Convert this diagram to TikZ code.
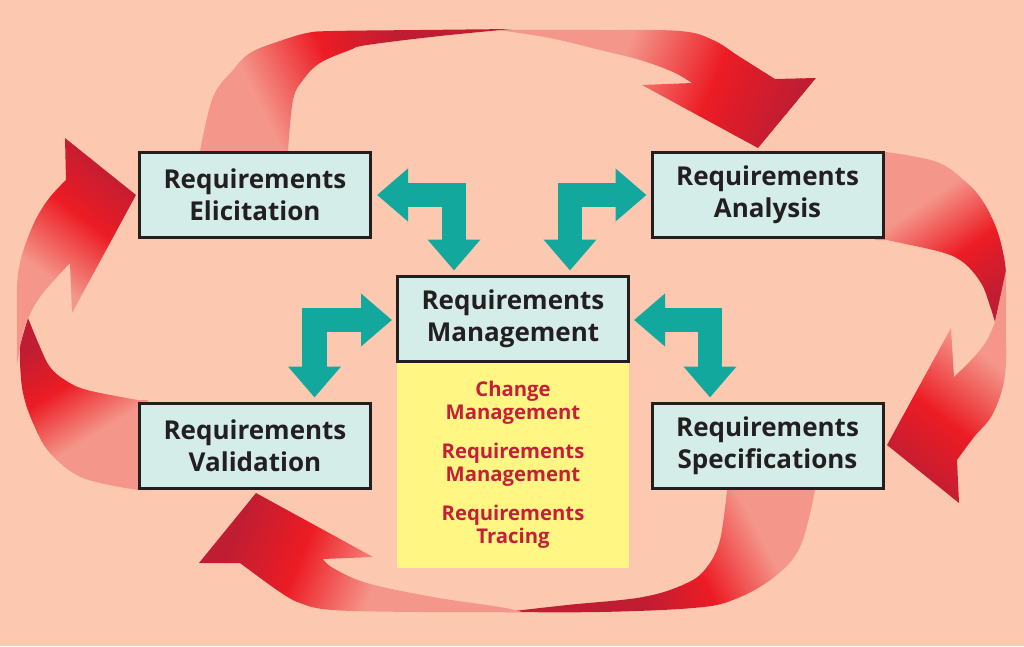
\documentclass[tikz,border=0pt]{standalone}
\usepackage{fontspec}
\setmainfont{Open Sans}
\usetikzlibrary{arrows.meta,calc}
\definecolor{bg}{HTML}{FCC9B0}
\definecolor{boxfill}{HTML}{D5EDE8}
\definecolor{boxline}{HTML}{231F20}
\definecolor{tealc}{HTML}{13A89E}
\definecolor{yel}{HTML}{FFF683}
\definecolor{redtext}{HTML}{C5203A}
\definecolor{rlight}{HTML}{F4968A}
\definecolor{rred}{HTML}{EC1C24}
\definecolor{rdark}{HTML}{C11D32}
\pgfdeclarehorizontalshading{ribbon}{100bp}{color(0bp)=(rlight); color(25bp)=(rlight); color(52bp)=(rred); color(75bp)=(rdark); color(100bp)=(rdark)}
% #1 = ribbon outline, #2 = point where the light colour ends, #3 = direction (deg), #4 = length of the gradient
\newcommand{\ribseg}[4]{%
  \begin{scope}
    \clip #1;
    \begin{scope}[transform canvas={shift={#2}, rotate=#3}]
      \fill[rlight] (-1200,-1200) rectangle (0.6,1200);
      \fill[rdark] (#4-0.6,-1200) rectangle (1200,1200);
      \shade[shading=ribbon] (0,-1200) rectangle (#4,1200);
    \end{scope}
  \end{scope}}
\begin{document}
\begin{tikzpicture}[x=1pt,y=-1pt,
  stage/.style={draw=boxline, line width=3pt, fill=boxfill, minimum width=231pt, minimum height=85pt, inner sep=0pt, align=center, font=\fontsize{26}{32}\selectfont\bfseries, text=boxline},
  tealarrow/.style={draw=tealc, line width=24.5pt, line join=miter, {Triangle[width=51pt,length=31pt]}-{Triangle[width=51pt,length=31pt]}},
  tasktxt/.style={text=redtext, align=center, font=\fontsize{20.3}{22.8}\selectfont\bfseries, inner sep=0pt}
]
\fill[bg] (0,0) rectangle (1024,646);
\useasboundingbox (0,0) rectangle (1024,646);

% ---- red ribbons ----
% top: tail segment
\ribseg{(200,165) -- plot[smooth,tension=0.6] coordinates {(200,151) (213,97) (233,70) (250,53) (277,42) (307,33) (333,31) (420,30) (512,29)} -- plot[smooth,tension=0.6] coordinates {(512,29) (440,36) (367,45) (350,50) (320,63) (303,80) (293,100) (288,151)} -- (288,165) -- cycle}{(255,95)}{25.7}{150}
% top: head segment
\ribseg{plot[smooth,tension=0.6] coordinates {(498,30) (600,30) (680,31) (713,40) (740,57) (775,79)} -- (816,78) -- (758,148) -- (642,85) -- plot[smooth,tension=0.6] coordinates {(692,83) (673,72) (640,60) (600,50) (550,38) (498,30)} -- cycle}{(630,40)}{-22.1}{173}
% right: tail segment
\ribseg{(875,152) -- plot[smooth,tension=0.6] coordinates {(886,152) (937,162) (967,183) (984,203) (997,230) (1004,257) (1006,273)} -- (995,322) -- plot[smooth,tension=0.6] coordinates {(995,322) (989,303) (981,283) (964,263) (941,252) (886,240)} -- (875,240) -- cycle}{(935,195)}{-55.6}{115}
% right: head segment
\ribseg{plot[smooth,tension=0.6] coordinates {(1006,270) (1006,330) (1006,363) (1002,390) (991,417) (974,437) (957,460)} -- (959,503) -- (887,445) -- (951,328) -- plot[smooth,tension=0.6] coordinates {(954,377) (974,357) (987,340) (995,322)} -- cycle}{(990,360)}{232.3}{139}
% bottom: tail segment
\ribseg{(727,480) -- plot[smooth,tension=0.6] coordinates {(727,490) (720,540) (707,567) (687,583) (643,597) (567,605) (505,612)} -- plot[smooth,tension=0.6] coordinates {(505,612) (600,612) (693,608) (733,600) (773,578) (800,547) (815,490)} -- (815,480) -- cycle}{(765,545)}{-152.4}{130}
% bottom: head segment
\ribseg{plot[smooth,tension=0.6] coordinates {(522,612) (420,612) (333,610) (300,603) (277,590) (240,563)} -- (199,563) -- (256,493) -- (373,557) -- plot[smooth,tension=0.6] coordinates {(323,559) (333,568) (367,583) (433,597) (500,607) (522,612)} -- cycle}{(370,595)}{157.8}{146}
% left: tail segment
\ribseg{(148,400) -- plot[smooth,tension=0.6] coordinates {(138,400) (87,390) (65,380) (50,367) (40,347) (28,318)} -- plot[smooth,tension=0.6] coordinates {(20,345) (20,363) (23,393) (33,423) (50,453) (83,478) (138,490)} -- (148,490) -- cycle}{(85,440)}{121.4}{105}
% left: head segment
\ribseg{plot[smooth,tension=0.6] coordinates {(17,365) (17,290) (20,263) (27,240) (37,217) (50,197) (66,180)} -- (65,138) -- (136,195) -- (72,313) -- plot[smooth,tension=0.6] coordinates {(70,263) (57,277) (43,293) (33,308) (28,318) (22,337) (17,365)} -- cycle}{(40,270)}{53.1}{125}

% ---- yellow task box ----
\node[fill=yel, minimum width=232pt, minimum height=205pt, anchor=north, inner sep=0pt] (tasks) at (513,363) {};
\node[tasktxt] (tasktext) at (513,465) {Change\\Management\\[16.5pt]Requirements\\Management\\[16.5pt]Requirements\\Tracing};

% ---- stage boxes ----
\node[stage] (elic) at (255,195) {Requirements\\Elicitation};
\node[stage] (anal) at (767.5,195) {Requirements\\Analysis};
\node[stage] (mgmt) at (513,318.5) {Requirements\\Management};
\node[stage] (vali) at (255,445.5) {Requirements\\Validation};
\node[stage] (spec) at (767.5,445.5) {Requirements\\Specifications};

% ---- teal double arrows ----
\draw[tealarrow] ([xshift=5pt]elic.east) -| ([xshift=-59pt,yshift=4pt]mgmt.north);
\draw[tealarrow] ([xshift=-4pt]anal.west) -| ([xshift=57pt,yshift=4pt]mgmt.north);
\draw[tealarrow] ([xshift=-4pt,yshift=-1.5pt]mgmt.west) -| ([xshift=59.5pt,yshift=4pt]vali.north);
\draw[tealarrow] ([xshift=4pt,yshift=-1.5pt]mgmt.east) -| ([xshift=-57.5pt,yshift=4pt]spec.north);
\end{tikzpicture}
\end{document}
